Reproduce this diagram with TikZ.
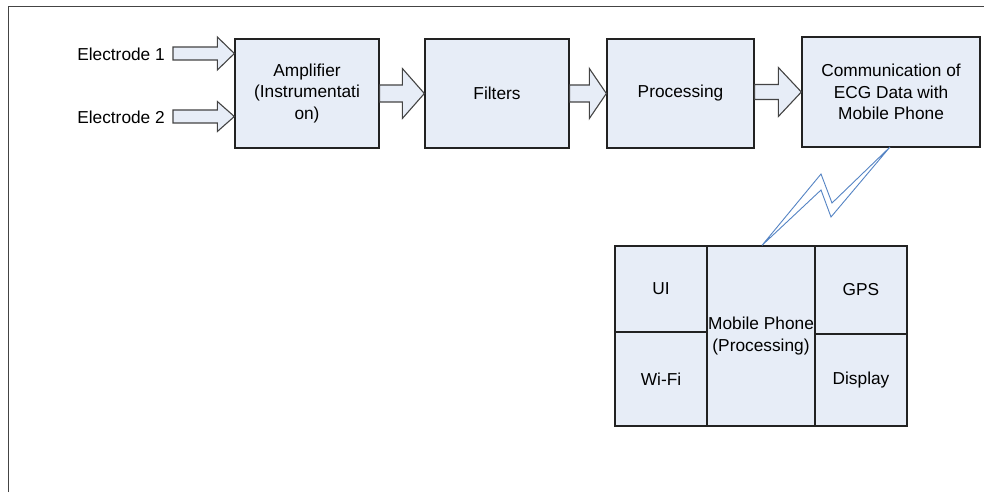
\documentclass[tikz,border=0pt]{standalone}
\usepackage{fontspec}
\setmainfont{Liberation Sans}
\usetikzlibrary{calc}

\definecolor{boxfill}{HTML}{E7EDF7}
\definecolor{boxline}{HTML}{222222}
\definecolor{arrowline}{HTML}{444444}
\definecolor{framegray}{HTML}{444444}
\definecolor{boltblue}{HTML}{5584C4}

% block arrow from the x of #1 to the tip #2; #3 shaft half-height, #4 head half-height, #5 head length
\newcommand{\blockarr}[5]{%
  \draw[barrow] let \p1=(#1), \p2=(#2) in
    (\x1,\y2+#3) -- (\x2-#5,\y2+#3) -- (\x2-#5,\y2+#4) -- (\x2,\y2)
    -- (\x2-#5,\y2-#4) -- (\x2-#5,\y2-#3) -- (\x1,\y2-#3) -- cycle;}

\begin{document}
\begin{tikzpicture}[x=1pt,y=-1pt,
  every node/.style={font=\fontsize{17.3}{21.5}\selectfont, text=black},
  blockbox/.style={draw=boxline, fill=boxfill, line width=1.3pt, inner sep=0pt, align=center},
  cell/.style={draw=boxline, fill=boxfill, line width=1.3pt, inner sep=0pt, align=center},
  barrow/.style={draw=arrowline, fill=boxfill, line width=1.1pt, line join=miter},
  bolt/.style={draw=boltblue, fill=white, line width=0.9pt, line join=miter}]

\useasboundingbox (0,0) rectangle (984,492);

% frame (left and top edges)
\draw[framegray, line width=1.9pt] (8.5,492) -- (8.5,6.5) -- (984,6.5);

% processing chain
\node[blockbox, minimum width=144, minimum height=109] (amp) at (307,93.5)
  {Amplifier\\(Instrumentati\\on)};
\node[blockbox, minimum width=144, minimum height=109] (filt) at (497,93.5) {Filters};
\node[blockbox, minimum width=147, minimum height=109] (proc) at (680.5,93.5) {Processing};
\node[blockbox, minimum width=178, minimum height=110] (comm) at (891,92)
  {Communication of\\ECG Data with\\Mobile Phone};

% electrode inputs
\node[anchor=east, inner sep=0pt] (el1) at (165,54) {Electrode 1};
\node[anchor=east, inner sep=0pt] (el2) at (165,117) {Electrode 2};
\coordinate (e1) at (173,53.5);
\coordinate (e2) at (173,116.5);
\blockarr{e1}{amp.west |- e1}{6.5}{16.5}{17}
\blockarr{e2}{amp.west |- e2}{6.5}{15}{17}

% arrows between stages
\blockarr{amp.east}{filt.west}{8.5}{25}{22}
\blockarr{filt.east}{proc.west}{8.5}{25}{17}
\blockarr{proc.east}{comm.west}{7.5}{24.5}{23}

% mobile phone block
\node[cell, minimum width=92, minimum height=86] (ui) at (661,289) {UI};
\node[cell, minimum width=92, minimum height=94] (wifi) at (661,379) {Wi-Fi};
\node[cell, minimum width=108, minimum height=180] (mob) at (761,336)
  {Mobile Phone\\(Processing)};
\node[cell, minimum width=92, minimum height=88] (gps) at (861,290) {GPS};
\node[cell, minimum width=92, minimum height=92] (disp) at (861,380) {Display};

% wireless link
\coordinate (zt) at (890,147);
\coordinate (zb) at (mob.north -| 762,0);
\draw[bolt] (zt) -- (832,203) -- (821,174) -- (zb) -- (821,190) -- (831,217) -- cycle;

\end{tikzpicture}
\end{document}
